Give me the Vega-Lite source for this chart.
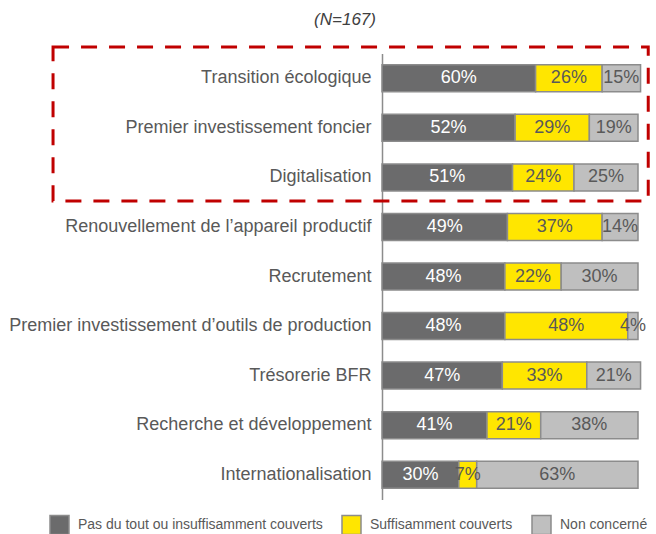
{
  "$schema": "https://vega.github.io/schema/vega-lite/v6.json",
  "autosize": "none",
  "width": 256,
  "height": 446,
  "padding": {"left": 382, "top": 53.5, "right": 18, "bottom": 34.5},
  "background": "white",
  "config": {"font": "Liberation Sans", "view": {"stroke": null}},
  "title": {
    "text": "(N=167)",
    "fontStyle": "italic",
    "fontWeight": "normal",
    "fontSize": 17,
    "color": "#404040",
    "anchor": "middle",
    "dx": -165,
    "offset": 17
  },
  "datasets": {
    "bars": [
      {"cat": "Transition écologique", "series": "Pas du tout ou insuffisamment couverts", "order": 1, "value": 0.60},
      {"cat": "Transition écologique", "series": "Suffisamment couverts", "order": 2, "value": 0.26},
      {"cat": "Transition écologique", "series": "Non concerné", "order": 3, "value": 0.15},
      {"cat": "Premier investissement foncier", "series": "Pas du tout ou insuffisamment couverts", "order": 1, "value": 0.52},
      {"cat": "Premier investissement foncier", "series": "Suffisamment couverts", "order": 2, "value": 0.29},
      {"cat": "Premier investissement foncier", "series": "Non concerné", "order": 3, "value": 0.19},
      {"cat": "Digitalisation", "series": "Pas du tout ou insuffisamment couverts", "order": 1, "value": 0.51},
      {"cat": "Digitalisation", "series": "Suffisamment couverts", "order": 2, "value": 0.24},
      {"cat": "Digitalisation", "series": "Non concerné", "order": 3, "value": 0.25},
      {"cat": "Renouvellement de l’appareil productif", "series": "Pas du tout ou insuffisamment couverts", "order": 1, "value": 0.49},
      {"cat": "Renouvellement de l’appareil productif", "series": "Suffisamment couverts", "order": 2, "value": 0.37},
      {"cat": "Renouvellement de l’appareil productif", "series": "Non concerné", "order": 3, "value": 0.14},
      {"cat": "Recrutement", "series": "Pas du tout ou insuffisamment couverts", "order": 1, "value": 0.48},
      {"cat": "Recrutement", "series": "Suffisamment couverts", "order": 2, "value": 0.22},
      {"cat": "Recrutement", "series": "Non concerné", "order": 3, "value": 0.30},
      {"cat": "Premier investissement d’outils de production", "series": "Pas du tout ou insuffisamment couverts", "order": 1, "value": 0.48},
      {"cat": "Premier investissement d’outils de production", "series": "Suffisamment couverts", "order": 2, "value": 0.48},
      {"cat": "Premier investissement d’outils de production", "series": "Non concerné", "order": 3, "value": 0.04},
      {"cat": "Trésorerie BFR", "series": "Pas du tout ou insuffisamment couverts", "order": 1, "value": 0.47},
      {"cat": "Trésorerie BFR", "series": "Suffisamment couverts", "order": 2, "value": 0.33},
      {"cat": "Trésorerie BFR", "series": "Non concerné", "order": 3, "value": 0.21},
      {"cat": "Recherche et développement", "series": "Pas du tout ou insuffisamment couverts", "order": 1, "value": 0.41},
      {"cat": "Recherche et développement", "series": "Suffisamment couverts", "order": 2, "value": 0.21},
      {"cat": "Recherche et développement", "series": "Non concerné", "order": 3, "value": 0.38},
      {"cat": "Internationalisation", "series": "Pas du tout ou insuffisamment couverts", "order": 1, "value": 0.30},
      {"cat": "Internationalisation", "series": "Suffisamment couverts", "order": 2, "value": 0.07},
      {"cat": "Internationalisation", "series": "Non concerné", "order": 3, "value": 0.63}
    ],
    "box": [
      {"x1": -1.285, "x2": 1.04, "y1": -0.131, "y2": 2.976}
    ]
  },
  "layer": [
    {
      "data": {"name": "bars"},
      "encoding": {
        "y": {
          "field": "cat", "type": "nominal",
          "sort": ["Transition écologique", "Premier investissement foncier", "Digitalisation", "Renouvellement de l’appareil productif", "Recrutement", "Premier investissement d’outils de production", "Trésorerie BFR", "Recherche et développement", "Internationalisation"],
          "scale": {"paddingInner": 0.455, "paddingOuter": 0.2275},
          "axis": {
            "title": null, "ticks": false, "labelFontSize": 18, "labelColor": "#595959",
            "labelPadding": 11, "labelLimit": 450, "domainColor": "#8c8c8c", "domainWidth": 1.5
          }
        }
      },
      "layer": [
        {
          "mark": {"type": "bar", "stroke": "#8c8c8c", "strokeWidth": 1.5},
          "encoding": {
            "x": {
              "field": "value", "type": "quantitative", "stack": "zero",
              "scale": {"domain": [0, 1], "nice": false}, "axis": null
            },
            "order": {"field": "order", "type": "quantitative"},
            "color": {
              "field": "series", "type": "nominal",
              "scale": {
                "domain": ["Pas du tout ou insuffisamment couverts", "Suffisamment couverts", "Non concerné"],
                "range": ["#6b6b6c", "#ffe600", "#bfbfbf"]
              },
              "legend": {
                "title": null, "orient": "none", "direction": "horizontal",
                "legendX": -333, "legendY": 461, "padding": 0,
                "symbolType": "square", "symbolSize": 361, "symbolStrokeColor": "#8c8c8c", "symbolStrokeWidth": 1.5, "symbolOpacity": 1,
                "labelFontSize": 14, "labelColor": "#595959", "labelOffset": 8, "columnPadding": 16, "labelLimit": 400
              }
            }
          }
        },
        {
          "transform": [
            {"stack": "value", "groupby": ["cat"], "sort": [{"field": "order"}], "as": ["x0", "x1"]},
            {"fold": ["x0", "x1"], "as": ["edge", "pos"]},
            {"aggregate": [{"op": "mean", "field": "pos", "as": "mid"}], "groupby": ["cat", "series", "value"]}
          ],
          "mark": {"type": "text", "fontSize": 18, "baseline": "middle", "align": "center"},
          "encoding": {
            "x": {"field": "mid", "type": "quantitative"},
            "text": {"field": "value", "type": "quantitative", "format": ".0%"},
            "color": {
              "condition": {"test": "datum.series === 'Pas du tout ou insuffisamment couverts'", "value": "#ffffff"},
              "value": "#595959"
            }
          }
        }
      ]
    },
    {
      "data": {"name": "box"},
      "mark": {"type": "rect", "fill": "transparent", "stroke": "#c00000", "strokeWidth": 3, "strokeDash": [16, 12]},
      "encoding": {
        "x": {"field": "x1", "type": "quantitative"},
        "x2": {"field": "x2"},
        "y": {"field": "y1", "type": "quantitative", "scale": {"domain": [0, 9], "reverse": true, "nice": false, "zero": false}, "axis": null},
        "y2": {"field": "y2"}
      }
    }
  ],
  "resolve": {"scale": {"y": "independent"}}
}
